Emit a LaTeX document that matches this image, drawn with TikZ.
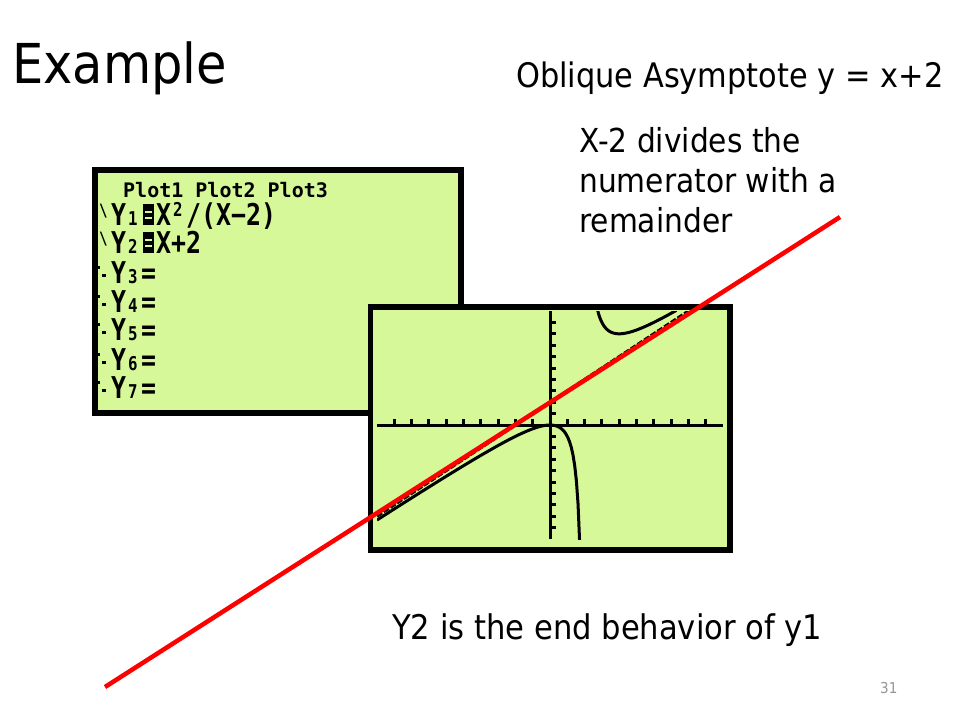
\documentclass[tikz,border=0pt]{standalone}
\usepackage{fontspec}
\setmainfont{DejaVu Sans}[FakeStretch=0.9]
\newfontfamily\calcfont{DejaVu Sans Mono}[FakeStretch=0.83]
\newfontfamily\plotfont{DejaVu Sans Mono}
\usepackage{xcolor}
\definecolor{scrgreen}{RGB}{214,248,152}
\definecolor{pagegray}{RGB}{150,150,150}
\newcommand{\selmark}{\makebox[15pt][c]{\rule{11pt}{21pt}\kern-9pt\textcolor{scrgreen}{\rule[6pt]{7pt}{2.5pt}}\kern-7pt\textcolor{scrgreen}{\rule[12pt]{7pt}{2.5pt}}\kern2pt}}
\newcommand{\onmark}{\makebox[15pt][l]{\kern3pt\raisebox{9pt}{\fontsize{17}{17}\selectfont\textbackslash}}}
\newcommand{\offmark}{\makebox[15pt][l]{\kern0pt\rule[14pt]{3.5pt}{3.5pt}\kern2.5pt\rule[6pt]{3.5pt}{3.5pt}}}
\newcommand{\subdig}[1]{\makebox[15pt][l]{\kern2pt\fontsize{19}{19}\selectfont #1}}
\newcommand{\supdig}[1]{\makebox[15pt][l]{\kern2pt\raisebox{9pt}{\fontsize{19}{19}\selectfont #1}}}

\begin{document}
\begin{tikzpicture}[x=1pt,y=-1pt]
		\tikzset{screen/.style = {draw,line width=5.5pt,fill=scrgreen,inner sep=0pt}}
		\tikzset{calcrow/.style = {anchor=base west,inner sep=0pt,font=\calcfont\bfseries\fontsize{30}{30}\selectfont}}
		\tikzset{plotrow/.style = {anchor=base west,inner sep=0pt,font=\plotfont\bfseries\fontsize{20}{20}\selectfont}}
		\tikzset{label/.style = {anchor=base west,inner sep=0pt,font=\fontsize{33.8}{40}\selectfont}}
		\tikzset{pixline/.style = {line width=3pt}}
		\tikzset{asym/.style = {red,line width=4.5pt}}
		\fill[white] (0,0) rectangle (960,720);
		\useasboundingbox (0,0) rectangle (960,720);
		% Y= screen
		\node[screen,minimum width=366pt,minimum height=243pt] (yeq) at (278,291.5) {};
		\node[plotrow] (plots) at (123,197) {Plot1 Plot2 Plot3};
		\node[calcrow] (y1) at (96,225) {\onmark Y\subdig{1}\selmark X\supdig{2}/(X−2)};
		\node[calcrow] (y2) at (96,253) {\onmark Y\subdig{2}\selmark X+2};
		\node[calcrow] (y3) at (96,283) {\offmark Y\subdig{3}=};
		\node[calcrow] (y4) at (96,312) {\offmark Y\subdig{4}=};
		\node[calcrow] (y5) at (96,340) {\offmark Y\subdig{5}=};
		\node[calcrow] (y6) at (96,370) {\offmark Y\subdig{6}=};
		\node[calcrow] (y7) at (96,398) {\offmark Y\subdig{7}=};
		% graph screen
		\node[screen,minimum width=359.5pt,minimum height=243pt] (graph) at (550.25,428.5) {};
		\begin{scope}[shift={(550,425)},x=17.3pt,y=11.4pt]
			\draw[pixline] (-10,0) -- (10,0);
			\draw[pixline] (0,-10) -- (0,10);
			\foreach \i in {-9,...,-1,1,2,...,9}
				\draw[line width=3pt] (\i,0) -- ++(0pt,6pt);
			\foreach \j in {-9,...,-1,1,2,...,9}
				\draw[line width=3pt] (0,\j) -- ++(6pt,0pt);
			\clip (-10,-10) rectangle (10,10);
			\draw[pixline,domain=-10:1.72,samples=120] plot (\x,{\x*\x/(\x-2)});
			\draw[pixline,domain=2.7:7.3,samples=80] plot (\x,{\x*\x/(\x-2)});
			\draw[pixline,dash pattern=on 6pt off 2pt] (-10,-8) -- (8,10);
		\end{scope}
		% red asymptote
		\coordinate (lo) at (105,687);
		\coordinate (hi) at (840,217);
		\draw[asym] (lo) -- (hi);
		% texts
		\node[anchor=base west,inner sep=0pt,font=\fontsize{55}{60}\selectfont] (title) at (12,83) {Example};
		\node[label] (oblique) at (516,87) {Oblique Asymptote y = x+2};
		\node[label,font=\fontsize{33}{40}\selectfont] (div1) at (579,152) {X-2 divides the};
		\node[label,font=\fontsize{33}{40}\selectfont] (div2) at (579,192) {numerator with a};
		\node[label,font=\fontsize{33}{40}\selectfont] (div3) at (579,232) {remainder};
		\node[label,font=\fontsize{34}{40}\selectfont] (endbeh) at (392,639) {Y2 is the end behavior of y1};
		\node[anchor=base west,inner sep=0pt,text=pagegray,font=\fontsize{15}{15}\selectfont] (page) at (880,693) {31};
\end{tikzpicture}
\end{document}
